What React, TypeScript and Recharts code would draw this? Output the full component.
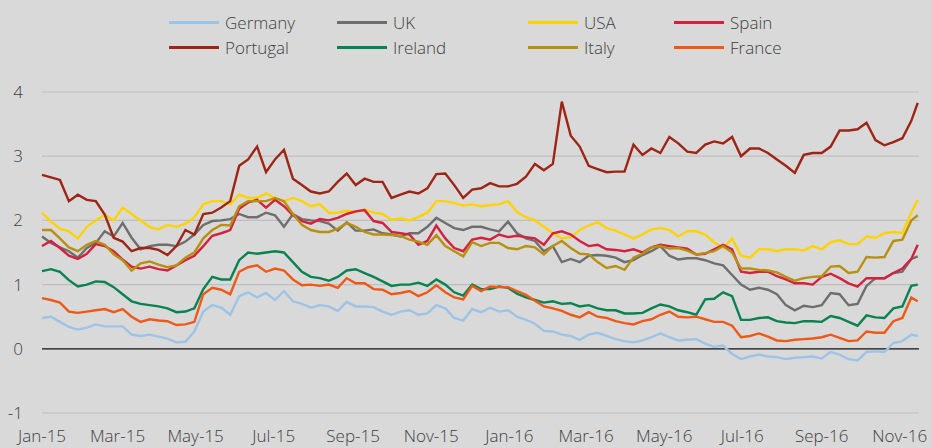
import { CartesianGrid, Line, LineChart, ReferenceLine, XAxis, YAxis } from "recharts";

// weekly readings from 1 Jan 2015, last one mid Nov 2016 (day offsets)
const DAYS = [...Array.from({ length: 98 }, (_, i) => i * 7), 684];

const TICK_DAYS = [0, 59, 120, 181, 243, 304, 365, 425, 486, 547, 609, 670];
const TICK_LABELS = [
  "Jan-15", "Mar-15", "May-15", "Jul-15", "Sep-15", "Nov-15",
  "Jan-16", "Mar-16", "May-16", "Jul-16", "Sep-16", "Nov-16",
];
const Y_TICKS = [-1, 0, 1, 2, 3, 4];

const GERMANY = [
  0.48, 0.5, 0.42, 0.34, 0.3, 0.33, 0.38, 0.35, 0.35, 0.35, 0.22, 0.2, 0.22, 0.19, 0.16,
  0.1, 0.11, 0.27, 0.58, 0.68, 0.64, 0.53, 0.82, 0.88, 0.8, 0.87, 0.76, 0.9, 0.74, 0.7, 0.64, 0.68,
  0.66, 0.59, 0.73, 0.66, 0.66, 0.65, 0.58, 0.53, 0.58, 0.6, 0.53, 0.55, 0.68, 0.63, 0.48, 0.44, 0.62,
  0.57, 0.64, 0.58, 0.6, 0.5, 0.45, 0.39, 0.28, 0.27, 0.22, 0.2, 0.14, 0.22, 0.25, 0.2, 0.15, 0.12, 0.1,
  0.13, 0.18, 0.24, 0.18, 0.13, 0.14, 0.15, 0.08, 0.03, 0.05, -0.08, -0.16, -0.12, -0.09, -0.12, -0.13, -0.16,
  -0.14, -0.13, -0.12, -0.15, -0.05, -0.09, -0.16, -0.18, -0.05, -0.04, -0.05, 0.09, 0.12, 0.22, 0.2,
];
const UK = [
  1.75, 1.65, 1.58, 1.52, 1.42, 1.57, 1.65, 1.83, 1.75, 1.96, 1.73, 1.55, 1.6, 1.62, 1.62,
  1.6, 1.67, 1.78, 1.93, 1.99, 2.0, 2.02, 2.1, 2.05, 2.05, 2.12, 2.08, 1.9, 2.1, 2.02, 2.0, 1.99,
  1.95, 1.84, 1.97, 1.84, 1.84, 1.86, 1.8, 1.78, 1.75, 1.8, 1.8, 1.9, 2.04, 1.96, 1.88, 1.85, 1.9,
  1.9, 1.86, 1.83, 1.98, 1.8, 1.72, 1.68, 1.52, 1.6, 1.35, 1.4, 1.35, 1.45, 1.46, 1.45, 1.42, 1.35, 1.38,
  1.46, 1.52, 1.6, 1.45, 1.39, 1.41, 1.41, 1.38, 1.33, 1.3, 1.15, 1.0, 0.92, 0.95, 0.92, 0.85, 0.68,
  0.6, 0.67, 0.65, 0.68, 0.87, 0.85, 0.68, 0.7, 0.98, 1.1, 1.1, 1.18, 1.2, 1.4, 1.44,
];
const USA = [
  2.12, 1.98, 1.87, 1.83, 1.72, 1.9, 2.0, 2.09, 2.0, 2.2, 2.1, 2.0, 1.9, 1.86, 1.93,
  1.9, 1.95, 2.05, 2.25, 2.3, 2.3, 2.25, 2.4, 2.35, 2.35, 2.42, 2.35, 2.3, 2.35, 2.3, 2.22, 2.25,
  2.12, 2.12, 2.15, 2.13, 2.17, 2.12, 2.1, 2.01, 2.03, 2.0, 2.05, 2.12, 2.3, 2.3, 2.27, 2.23, 2.25,
  2.22, 2.24, 2.25, 2.3, 2.13, 2.05, 2.0, 1.9, 1.8, 1.72, 1.74, 1.85, 1.92, 1.97, 1.88, 1.84, 1.78, 1.72,
  1.78, 1.86, 1.88, 1.85, 1.75, 1.83, 1.83, 1.78, 1.66, 1.57, 1.72, 1.45, 1.42, 1.55, 1.55, 1.52, 1.55,
  1.55, 1.53, 1.6, 1.55, 1.66, 1.69, 1.63, 1.63, 1.75, 1.73, 1.8, 1.82, 1.8, 2.12, 2.32,
];
const SPAIN = [
  1.6, 1.68, 1.57, 1.45, 1.4, 1.48, 1.63, 1.6, 1.52, 1.39, 1.28, 1.25, 1.28, 1.24, 1.22,
  1.3, 1.38, 1.45, 1.6, 1.76, 1.8, 1.85, 2.18, 2.28, 2.32, 2.2, 2.32, 2.22, 2.08, 1.99, 1.95, 2.02,
  2.0, 2.04, 2.1, 2.14, 2.16, 1.99, 1.96, 1.82, 1.8, 1.78, 1.62, 1.68, 1.92, 1.72, 1.57, 1.52, 1.7,
  1.73, 1.7, 1.78, 1.74, 1.76, 1.74, 1.72, 1.62, 1.8, 1.83, 1.78, 1.68, 1.6, 1.62, 1.55, 1.54, 1.52, 1.55,
  1.5, 1.58, 1.62, 1.6, 1.58, 1.56, 1.47, 1.48, 1.55, 1.62, 1.55, 1.2, 1.18, 1.2, 1.2, 1.13, 1.08,
  1.02, 1.02, 1.0, 1.12, 1.17, 1.1, 1.02, 0.97, 1.1, 1.1, 1.1, 1.18, 1.25, 1.4, 1.62,
];
const PORTUGAL = [
  2.71, 2.67, 2.63, 2.3, 2.4, 2.32, 2.3, 2.09, 1.73, 1.67, 1.52, 1.57, 1.57, 1.54, 1.46,
  1.6, 1.85, 1.78, 2.1, 2.12, 2.2, 2.3, 2.85, 2.95, 3.15, 2.75, 2.95, 3.1, 2.65, 2.55, 2.45, 2.42,
  2.45, 2.6, 2.73, 2.55, 2.65, 2.6, 2.6, 2.35, 2.4, 2.45, 2.42, 2.5, 2.72, 2.73, 2.55, 2.35, 2.48,
  2.5, 2.58, 2.53, 2.53, 2.57, 2.68, 2.88, 2.78, 2.88, 3.85, 3.32, 3.15, 2.85, 2.8, 2.75, 2.76, 2.76, 3.18,
  3.02, 3.12, 3.05, 3.3, 3.2, 3.07, 3.05, 3.18, 3.23, 3.2, 3.3, 3.0, 3.12, 3.12, 3.05, 2.95, 2.85,
  2.74, 3.02, 3.05, 3.05, 3.15, 3.4, 3.4, 3.42, 3.52, 3.25, 3.17, 3.22, 3.28, 3.55, 3.83,
];
const IRELAND = [
  1.21, 1.24, 1.2, 1.07, 0.97, 1.0, 1.05, 1.04, 0.96, 0.85, 0.74, 0.7, 0.68, 0.66, 0.63,
  0.57, 0.58, 0.63, 0.93, 1.12, 1.08, 1.08, 1.38, 1.5, 1.48, 1.5, 1.52, 1.5, 1.35, 1.2, 1.12, 1.1,
  1.06, 1.12, 1.22, 1.24, 1.18, 1.12, 1.05, 0.98, 1.0, 1.0, 1.03, 0.98, 1.08, 1.0, 0.88, 0.83, 1.0,
  0.93, 0.93, 0.97, 0.95, 0.86, 0.8, 0.76, 0.72, 0.74, 0.7, 0.71, 0.66, 0.68, 0.63, 0.6, 0.6, 0.55, 0.55,
  0.56, 0.63, 0.69, 0.66, 0.6, 0.57, 0.53, 0.77, 0.78, 0.88, 0.82, 0.45, 0.45, 0.48, 0.49, 0.43, 0.41,
  0.4, 0.43, 0.43, 0.42, 0.51, 0.48, 0.42, 0.36, 0.52, 0.49, 0.48, 0.63, 0.66, 0.98, 1.0,
];
const ITALY = [
  1.85, 1.85, 1.72, 1.58, 1.52, 1.62, 1.68, 1.62, 1.47, 1.38, 1.22, 1.33, 1.36, 1.31, 1.27,
  1.3, 1.42, 1.5, 1.72, 1.85, 1.93, 1.92, 2.22, 2.3, 2.3, 2.3, 2.35, 2.3, 2.1, 1.93, 1.85, 1.82,
  1.82, 1.87, 1.96, 1.9, 1.82, 1.78, 1.78, 1.77, 1.76, 1.7, 1.67, 1.62, 1.77, 1.6, 1.52, 1.44, 1.66,
  1.6, 1.65, 1.65, 1.57, 1.55, 1.6, 1.58, 1.47, 1.6, 1.68, 1.57, 1.48, 1.47, 1.35, 1.26, 1.29, 1.23, 1.42,
  1.48, 1.58, 1.6, 1.56, 1.57, 1.53, 1.47, 1.49, 1.52, 1.6, 1.5, 1.25, 1.25, 1.23, 1.22, 1.19, 1.12,
  1.06, 1.1, 1.12, 1.13, 1.28, 1.29, 1.18, 1.2, 1.43, 1.42, 1.43, 1.68, 1.7, 2.0, 2.08,
];
const FRANCE = [
  0.79, 0.76, 0.72, 0.58, 0.56, 0.58, 0.6, 0.62, 0.57, 0.62, 0.5, 0.42, 0.46, 0.44, 0.43,
  0.37, 0.38, 0.42, 0.85, 0.95, 0.92, 0.85, 1.2, 1.27, 1.3, 1.2, 1.25, 1.22, 1.08, 0.99, 1.0, 0.98,
  1.0, 0.95, 1.1, 1.02, 1.02, 0.93, 0.92, 0.85, 0.87, 0.9, 0.82, 0.88, 0.99, 0.88, 0.8, 0.77, 0.98,
  0.9, 0.97, 0.96, 0.96, 0.9, 0.84, 0.75, 0.66, 0.63, 0.59, 0.53, 0.49, 0.57, 0.5, 0.48, 0.43, 0.4, 0.38,
  0.43, 0.46, 0.53, 0.58, 0.5, 0.49, 0.5, 0.46, 0.42, 0.42, 0.36, 0.18, 0.2, 0.24, 0.19, 0.13, 0.12,
  0.14, 0.15, 0.16, 0.18, 0.22, 0.17, 0.12, 0.13, 0.27, 0.25, 0.25, 0.43, 0.48, 0.8, 0.74,
];

const SERIES = [
  { key: "Germany", values: GERMANY, color: "#9DC3E6" },
  { key: "UK", values: UK, color: "#6E6E6E" },
  { key: "USA", values: USA, color: "#FFD200" },
  { key: "Spain", values: SPAIN, color: "#D2223F" },
  { key: "Portugal", values: PORTUGAL, color: "#9E2415" },
  { key: "Ireland", values: IRELAND, color: "#088250" },
  { key: "Italy", values: ITALY, color: "#B8900F" },
  { key: "France", values: FRANCE, color: "#EE5A16" },
];

// legend slots, two rows of four
const LEGEND_X = [169, 337, 528, 674];
const LEGEND_Y = [22, 47];

const FONT = "'Open Sans', sans-serif";
const TEXT = "#404040";
const AXIS = { fontSize: 17, fontWeight: 300, fill: TEXT, fontFamily: FONT } as const;

export default function App() {
  const data = DAYS.map((day, i) => {
    const row: Record<string, number> = { day };
    SERIES.forEach((s) => (row[s.key] = s.values[i]));
    return row;
  });

  return (
    <div
      style={{
        position: "absolute",
        left: 0,
        top: 0,
        width: 931,
        height: 448,
        background: "#D9D9D9",
        fontFamily: FONT,
      }}
    >
      {SERIES.map((s, i) => (
        <div
          key={s.key}
          style={{
            position: "absolute",
            left: LEGEND_X[i % 4],
            top: LEGEND_Y[Math.floor(i / 4)] - 11,
            height: 22,
            display: "flex",
            alignItems: "center",
            fontSize: 17,
            fontWeight: 300,
            color: TEXT,
            whiteSpace: "nowrap",
          }}
        >
          <span style={{ width: 50, height: 3, background: s.color, marginRight: 6 }} />
          {s.key}
        </div>
      ))}
      <LineChart
        width={931}
        height={448}
        data={data}
        margin={{ top: 92, right: 12, bottom: 5, left: 0 }}
      >
        <CartesianGrid vertical={false} stroke="#BFBFBF" strokeWidth={1.2} />
        <XAxis
          dataKey="day"
          type="number"
          domain={[0, 685]}
          ticks={TICK_DAYS}
          tickFormatter={(d: number) => TICK_LABELS[TICK_DAYS.indexOf(d)]}
          tick={AXIS}
          axisLine={false}
          tickLine={false}
          tickMargin={11}
          height={30}
          interval={0}
        />
        <YAxis
          domain={[-1, 4]}
          ticks={Y_TICKS}
          tick={AXIS}
          axisLine={false}
          tickLine={false}
          tickMargin={13}
          width={42}
        />
        <ReferenceLine y={0} stroke="#1A1A1A" strokeWidth={1.2} />
        {SERIES.map((s) => (
          <Line
            key={s.key}
            dataKey={s.key}
            stroke={s.color}
            strokeWidth={2.4}
            dot={false}
            type="linear"
            isAnimationActive={false}
          />
        ))}
      </LineChart>
    </div>
  );
}
